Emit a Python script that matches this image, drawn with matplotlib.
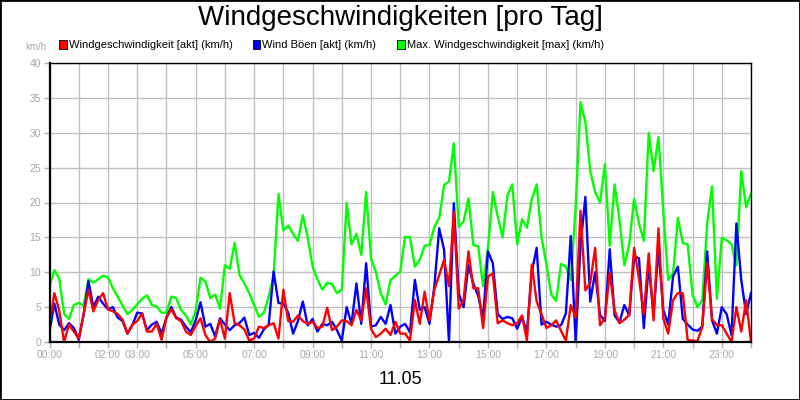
import matplotlib
matplotlib.use('Agg')
import matplotlib.pyplot as plt
from matplotlib.patches import Rectangle
import numpy as np

plt.rcParams['font.family'] = ['Liberation Sans', 'DejaVu Sans']

# 10-minute values, 00:00 .. 24:00 (6 values per hour + final)
green = [8.0, 10.3, 9.1, 4.0, 3.3, 5.3,
         5.6, 5.2, 9.0, 8.5, 9.0, 9.5,
         9.3, 7.7, 6.5, 5.2, 4.0, 4.6,
         5.4, 6.2, 6.7, 5.3, 5.1, 4.2,
         4.2, 6.5, 6.3, 4.6, 3.8, 2.5,
         4.5, 9.2, 8.7, 6.3, 6.8, 4.8,
         11.0, 10.5, 14.2, 9.6, 8.4, 7.0,
         5.3, 3.6, 4.2, 6.5, 9.5, 21.2,
         16.0, 16.7, 15.5, 14.5, 18.2, 15.0,
         10.8, 9.0, 7.5, 8.5, 8.3, 7.0,
         7.5, 19.9, 14.0, 15.5, 12.5, 21.5,
         12.0, 10.0, 7.0, 5.4, 8.9, 9.5,
         10.1, 15.1, 15.0, 10.8, 11.8, 13.8,
         13.9, 16.5, 17.8, 22.5, 23.0, 28.5,
         16.5, 17.3, 20.6, 13.9, 13.7, 8.0,
         13.5, 21.5, 18.0, 15.0, 21.0, 22.6,
         14.0, 17.6, 16.4, 20.5, 22.6, 15.0,
         11.1, 6.8, 5.9, 11.2, 10.8, 8.9,
         19.3, 34.4, 31.5, 24.5, 21.5, 20.0,
         25.5, 13.8, 22.6, 17.5, 11.0, 14.0,
         20.5, 17.0, 14.5, 30.0, 24.5, 29.4,
         18.7, 8.9, 9.8, 17.8, 14.2, 14.0,
         6.8, 5.0, 6.0, 17.0, 22.3, 6.2,
         14.9, 14.6, 14.0, 11.0, 24.5, 19.3,
         21.3]

blue = [1.5, 5.5, 2.5, 1.7, 2.7, 2.0,
        0.3, 3.9, 8.7, 5.0, 6.5, 5.5,
        4.7, 5.0, 3.5, 3.0, 1.2, 2.4,
        4.2, 4.1, 1.7, 2.5, 2.9, 1.2,
        3.5, 5.0, 3.5, 3.2, 2.2, 1.4,
        3.1, 5.7, 2.2, 2.6, 0.8, 3.4,
        2.5, 1.7, 2.4, 2.7, 3.5, 1.0,
        1.3, 0.6, 1.8, 2.5, 10.1, 5.6,
        5.5, 4.2, 1.2, 3.0, 5.8, 2.4,
        3.3, 1.5, 2.6, 2.4, 2.9, 1.7,
        0.2, 5.0, 2.6, 8.4, 2.6, 11.3,
        2.2, 2.4, 3.6, 2.6, 5.3, 1.2,
        2.2, 2.6, 1.4, 8.9, 4.6, 5.0,
        2.6, 8.0, 16.3, 13.2, 0.0, 19.9,
        7.0, 5.0, 11.0, 8.4, 6.6, 3.4,
        13.0, 11.3, 4.0, 3.3, 3.6, 3.4,
        1.9, 3.6, 1.4, 10.0, 13.5, 2.5,
        2.9, 2.5, 2.2, 2.4, 4.1, 15.2,
        0.0, 13.8, 20.8, 5.8, 10.0, 3.9,
        3.0, 13.3, 3.8, 2.8, 5.3, 3.8,
        12.3, 12.0, 2.0, 11.0, 4.0, 13.4,
        4.6, 2.5, 9.4, 10.8, 3.3, 2.5,
        1.8, 1.6, 2.2, 13.0, 3.1, 1.2,
        5.0, 4.0, 1.0, 17.0, 8.9, 4.0,
        7.0]

red = [2.5, 7.0, 4.5, 0.0, 2.5, 1.5,
       0.5, 4.0, 7.5, 4.4, 6.0, 7.0,
       4.7, 4.4, 4.0, 3.2, 1.2, 2.5,
       3.0, 4.1, 1.5, 1.5, 2.6, 0.3,
       3.5, 4.7, 3.4, 3.0, 1.5, 1.0,
       2.3, 3.4, 1.0, 0.0, 0.5, 3.2,
       0.5, 7.0, 2.7, 2.4, 1.8, 0.2,
       0.5, 2.2, 2.0, 2.4, 2.7, 0.5,
       7.5, 3.0, 2.9, 3.8, 3.0, 2.6,
       2.9, 2.0, 2.2, 4.9, 1.7, 2.2,
       3.1, 3.0, 2.4, 4.6, 3.1, 7.7,
       1.9, 0.7, 1.2, 1.9, 1.0, 2.9,
       1.2, 1.2, 0.2, 6.0, 2.6, 7.2,
       3.1, 7.5, 9.6, 11.8, 8.0, 18.7,
       4.8, 6.0, 13.0, 7.7, 7.7, 2.0,
       9.4, 9.8, 2.7, 3.1, 2.7, 2.4,
       2.7, 3.8, 0.2, 11.1, 5.8, 4.0,
       2.0, 2.4, 3.1, 1.6, 0.2, 5.3,
       3.5, 18.8, 7.4, 8.5, 13.5, 2.4,
       3.4, 9.9, 4.5, 2.7, 3.2, 3.9,
       13.5, 9.1, 4.0, 12.7, 3.1, 16.3,
       3.4, 1.2, 6.0, 7.0, 7.0, 0.3,
       0.2, 0.1, 2.2, 11.3, 3.3, 2.4,
       2.4, 1.2, 0.0, 5.0, 1.5, 6.0,
       0.0]

hours = np.arange(len(green)) / 6.0
label_hours = [0, 2, 3, 5, 7, 9, 11, 13, 15, 17, 19, 21, 23]

fig = plt.figure(figsize=(8, 4), dpi=100)
ax = fig.add_axes([49.5 / 800, 58 / 400, 701.5 / 800, 279 / 400])

ax.plot(hours, green, color='#00ff00', lw=1.7)
ax.plot(hours, blue, color='#0000ff', lw=1.7)
ax.plot(hours, red, color='#ff0000', lw=1.7)

ax.set_xlim(0, 24)
ax.set_ylim(0, 40)
ax.set_xticks(range(25))
ax.set_xticklabels(['%02d:00' % h if h in label_hours else '' for h in range(25)])
ax.set_yticks(range(0, 41, 5))
ax.grid(color='#c0c0c0', lw=1)
ax.set_axisbelow(True)
ax.tick_params(colors='#b0b0b0', labelcolor='#a8a8a8', labelsize=7.5,
               length=4, width=1, pad=2)
for side in ['top', 'right']:
    ax.spines[side].set_linewidth(1)
for side in ['left', 'bottom']:
    ax.spines[side].set_linewidth(1.6)

fig.text(0.5, 1 - 18 / 400, 'Windgeschwindigkeiten [pro Tag]',
         ha='center', va='center', fontsize=20)
fig.text(0.5, 1 - 380 / 400, '11.05', ha='center', va='center', fontsize=13)
fig.text(25 / 800, 1 - 47 / 400, 'km/h', ha='left', va='center',
         fontsize=7, color='#a8a8a8')

legend = [('Windgeschwindigkeit [akt] (km/h)', '#ff0000', 59),
          ('Wind Böen [akt] (km/h)', '#0000ff', 252.5),
          ('Max. Windgeschwindigkeit [max] (km/h)', '#00ff00', 397)]
for text, col, x in legend:
    fig.patches.append(Rectangle((x / 800, 1 - 48.5 / 400), 7.5 / 800, 8 / 400,
                                 transform=fig.transFigure, facecolor=col,
                                 edgecolor='black', lw=0.6))
    fig.text((x + 10) / 800, 1 - 44.5 / 400, text, ha='left', va='center',
             fontsize=8)

fig.patches.append(Rectangle((0, 0), 1, 1, transform=fig.transFigure,
                             fill=False, edgecolor='black', lw=2))

fig.savefig('out.png', dpi=100)
